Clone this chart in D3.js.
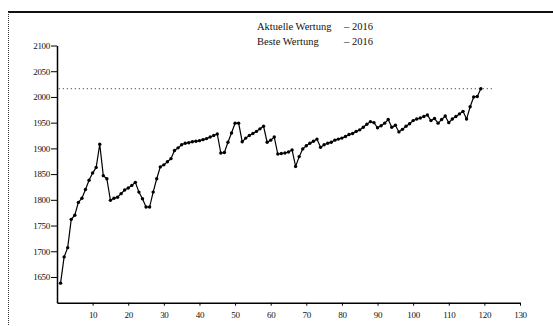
<!DOCTYPE html>
<html>
<head>
<meta charset="utf-8">
<script src="https://cdn.jsdelivr.net/npm/d3@7"></script>
<style>
  body { margin: 0; background: #fff; }
  svg { display: block; }
</style>
</head>
<body>
<div id="chart"></div>
<script>
// Wertung pro Partie
const games = d3.range(1, 120);
const ratings = [
  1638, 1689, 1707, 1762, 1770, 1795, 1803, 1820, 1838, 1852,
  1863, 1908, 1847, 1841, 1799, 1803, 1805, 1812, 1819, 1823,
  1828, 1834, 1815, 1802, 1786, 1786, 1815, 1841, 1864, 1868,
  1874, 1880, 1896, 1901, 1907, 1910, 1911, 1913, 1914, 1915,
  1917, 1919, 1922, 1925, 1928, 1891, 1892, 1912, 1930, 1949,
  1949, 1913, 1920, 1925, 1929, 1933, 1938, 1943, 1912, 1916,
  1922, 1889, 1890, 1891, 1893, 1897, 1865, 1884, 1899, 1905,
  1910, 1914, 1918, 1902, 1907, 1910, 1912, 1916, 1918, 1920,
  1923, 1927, 1929, 1933, 1936, 1941, 1947, 1952, 1950, 1940,
  1944, 1949, 1956, 1941, 1945, 1932, 1937, 1943, 1948, 1954,
  1957, 1959, 1962, 1965, 1954, 1958, 1949, 1956, 1963, 1950,
  1957, 1962, 1967, 1972, 1957, 1981, 2000, 2001, 2016
];
const bestRating = 2016;
const currentRating = 2016;
const xTicks = [10, 20, 30, 40, 50, 60, 70, 80, 90, 100, 110, 120, 130];
const yTicks = [1650, 1700, 1750, 1800, 1850, 1900, 1950, 2000, 2050, 2100];

const serif = '"Liberation Serif", serif';
const width = 553, height = 326;
const svg = d3.select('#chart').append('svg')
  .attr('width', width).attr('height', height);

// frame of the scanned page
svg.append('line').attr('x1', 8).attr('x2', width).attr('y1', 12).attr('y2', 12)
  .attr('stroke', '#111').attr('stroke-width', 2);
svg.append('line').attr('x1', 8.5).attr('x2', 8.5).attr('y1', 12).attr('y2', height)
  .attr('stroke', '#333').attr('stroke-width', 1).attr('stroke-dasharray', '1,1');

const x = d3.scaleLinear().domain([0, 130]).range([57, 520]);
const y = d3.scaleLinear().domain([1600, 2100]).range([302.7, 45.5]);

// axes
const xAxis = svg.append('g')
  .attr('transform', `translate(0,${y(1600)})`)
  .call(d3.axisBottom(x).tickValues(xTicks).tickFormat(d3.format('d'))
    .tickSize(3).tickSizeOuter(0).tickPadding(6));
xAxis.select('.domain').attr('stroke-width', 1.5);

const yAxis = svg.append('g')
  .attr('transform', `translate(${x(0)},0)`)
  .call(d3.axisLeft(y).tickValues(yTicks).tickFormat(d3.format('d'))
    .tickSize(6).tickSizeOuter(0).tickPadding(1));
yAxis.select('.domain').attr('stroke-width', 1.5);

svg.selectAll('.tick text')
  .attr('font-family', serif)
  .style('font-family', serif)
  .style('font-size', '9px')
  .style('letter-spacing', '-0.3px')
  .attr('fill', '#111');

// best rating (dotted)
svg.append('line')
  .attr('x1', x(0.5)).attr('x2', x(122.5))
  .attr('y1', y(bestRating)).attr('y2', y(bestRating))
  .attr('stroke', '#222').attr('stroke-width', 1)
  .attr('stroke-dasharray', '1,3');

// rating line
const line = d3.line()
  .x((d, i) => x(games[i]))
  .y(d => y(d));

svg.append('path')
  .datum(ratings)
  .attr('d', line)
  .attr('fill', 'none')
  .attr('stroke', '#000')
  .attr('stroke-width', 1.2);

svg.selectAll('.pt')
  .data(ratings)
  .enter()
  .append('circle')
  .attr('class', 'pt')
  .attr('cx', (d, i) => x(games[i]))
  .attr('cy', d => y(d))
  .attr('r', 1.7)
  .attr('fill', '#000');

// legend
const legend = svg.append('g')
  .style('font-family', serif)
  .style('font-size', '10.5px')
  .attr('fill', '#111');
const legendRows = [
  ['Aktuelle Wertung', currentRating],
  ['Beste Wertung', bestRating]
];
legendRows.forEach((r, i) => {
  legend.append('text').attr('x', 257).attr('y', 30 + i * 15).text(r[0]);
  legend.append('text').attr('x', 344).attr('y', 30 + i * 15).text('\u2013 ' + r[1]);
});
</script>
</body>
</html>
